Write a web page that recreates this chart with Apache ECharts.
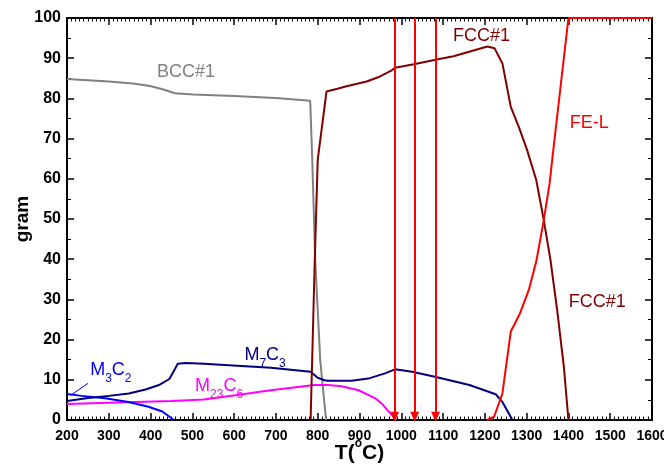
<!DOCTYPE html>
<html>
<head>
<meta charset="utf-8">
<script src="https://cdn.jsdelivr.net/npm/echarts@6/dist/echarts.min.js"></script>
<style>
  html, body { margin: 0; padding: 0; background: #fff; }
  #main { width: 664px; height: 466px; }
</style>
</head>
<body>
<div id="main"></div>
<script>
// temperatures (°C) and masses (gram)
const bccT = [200, 300, 358, 399, 431, 458, 502, 600, 700, 782, 787, 794, 806, 820]
const bccG = [84.8, 84.2, 83.7, 83.1, 82.2, 81.3, 81.0, 80.6, 80.1, 79.4, 64.7, 39.8, 14.9, 0]

const fccT = [783, 793, 800, 821, 847, 869, 917, 948, 977, 985, 1030, 1082, 1125, 1206, 1223, 1242, 1262, 1281, 1301, 1323, 1341, 1357, 1373, 1389, 1400]
const fccG = [0, 40, 64.7, 81.7, 82.4, 83.0, 84.2, 85.4, 87.0, 87.6, 88.5, 89.6, 90.5, 92.9, 92.5, 88.7, 77.9, 73.0, 67.2, 59.7, 49.7, 39.8, 27.4, 13.3, 0]

const liqT = [1205, 1222, 1242, 1262, 1284, 1305, 1323, 1341, 1355, 1362, 1400, 1600]
const liqG = [0, 0.8, 6.6, 22, 26.5, 32.3, 39.4, 49.7, 58.9, 65.5, 100, 100]

const m7c3T = [200, 251, 300, 348, 388, 420, 445, 459, 465, 485, 528, 607, 688, 783, 800, 816, 825, 881, 921, 961, 985, 1026, 1083, 1163, 1226, 1242, 1266]
const m7c3G = [4.7, 5.5, 6.0, 6.6, 7.6, 8.7, 10.2, 12.8, 14.0, 14.2, 14.0, 13.5, 13.0, 12.0, 10.5, 9.9, 9.75, 9.75, 10.3, 11.6, 12.6, 12.0, 10.7, 8.7, 6.4, 4.5, 0]

const m3c2T = [200, 235, 291, 347, 395, 428, 456]
const m3c2G = [6.45, 6.0, 5.4, 4.5, 3.3, 2.1, 0]

const m23c6T = [200, 300, 450, 528, 607, 688, 792, 825, 857, 898, 938, 955, 970, 988]
const m23c6G = [4.0, 4.3, 4.7, 5.1, 6.2, 7.4, 8.7, 8.7, 8.4, 7.4, 5.4, 3.9, 2.1, 0]

// red arrows
const arrowT = [984, 1032, 1082]

// text labels: [T, gram] of their centres
const labelNames = ['bcc', 'fccTop', 'liq', 'fccLow', 'm3c2', 'm7c3', 'm23c6']
const labelText = ['BCC#1', 'FCC#1', 'FE-L', 'FCC#1', '{m|M}{s|3}{m|C}{s|2}', '{m|M}{s|7}{m|C}{s|3}', '{m|M}{s|23}{m|C}{s|6}']
const labelT = [485, 1192, 1450, 1469, 305, 674, 564]
const labelG = [86.5, 95.5, 73.8, 29.3, 11.7, 15.4, 7.8]

const colBcc = '#808080'
const colFcc = '#800000'
const colLiq = '#ff0000'
const colM7 = '#000080'
const colM3 = '#0000ff'
const colM23 = '#ff00ff'
const labelColor = [colBcc, colFcc, colLiq, colFcc, colM3, colM7, colM23]

function pairs(t, g) {
  return t.map((v, i) => [v, g[i]])
}

function lineSeries(name, t, g, color) {
  return {
    name: name,
    type: 'line',
    data: pairs(t, g),
    showSymbol: false,
    symbol: 'none',
    lineStyle: { color: color, width: 2 },
    itemStyle: { color: color },
    z: 3
  }
}

const axisFont = 'Liberation Sans, Arial, sans-serif'

// ticks pointing into the plot on all four sides
function frameAxis(extra) {
  return Object.assign({
    type: 'value',
    axisLine: { show: true, onZero: false, lineStyle: { color: '#000', width: 2 } },
    axisTick: { show: true, inside: true, length: 7, lineStyle: { color: '#000', width: 1.5 } },
    splitLine: { show: false }
  }, extra)
}

const chart = echarts.init(document.getElementById('main'))

const liq = lineSeries('FE-L', liqT, liqG, colLiq)
liq.markLine = {
  silent: true,
  symbol: ['none', 'triangle'],
  symbolSize: [9, 10],
  label: { show: false },
  lineStyle: { color: colLiq, width: 2, type: 'solid' },
  data: arrowT.map(t => [{ coord: [t, 100] }, { coord: [t, 0.8] }])
}
liq.z = 4

const m3 = lineSeries('M3C2', m3c2T, m3c2G, colM3)
m3.markLine = {
  silent: true,
  symbol: 'none',
  label: { show: false },
  lineStyle: { color: colM3, width: 1, type: 'solid' },
  data: [[{ coord: [250, 9.1] }, { coord: [208, 6.1] }]]
}

const option = {
  animation: false,
  backgroundColor: '#fff',
  grid: { left: 67, right: 12, top: 18, bottom: 46, containLabel: false, outerBoundsMode: 'none' },
  xAxis: [frameAxis({
    min: 200,
    max: 1600,
    interval: 100,
    name: '{b|T(}{s|o}{b|C)}',
    nameLocation: 'middle',
    nameGap: 19,
    nameMoveOverlap: false,
    nameTextStyle: {
      rich: {
        b: { fontFamily: axisFont, fontWeight: 'bold', fontSize: 21, color: '#000', lineHeight: 22, padding: [6, 0, 0, 0] },
        s: { fontFamily: axisFont, fontWeight: 'bold', fontSize: 12, color: '#000', lineHeight: 12, padding: [0, 0, 12, 0] }
      }
    },
    minorTick: { show: true, splitNumber: 10, length: 3.5, lineStyle: { color: '#000', width: 1 } },
    axisLabel: { color: '#000', fontFamily: axisFont, fontWeight: 'bold', fontSize: 14, margin: 9, formatter: v => String(v) }
  }), frameAxis({
    position: 'top',
    min: 200,
    max: 1600,
    interval: 100,
    minorTick: { show: true, splitNumber: 10, length: 3.5, lineStyle: { color: '#000', width: 1 } },
    axisLabel: { show: false }
  })],
  yAxis: [frameAxis({
    min: 0,
    max: 100,
    interval: 10,
    name: 'gram',
    nameLocation: 'middle',
    nameGap: 35,
    nameMoveOverlap: false,
    nameTextStyle: { fontFamily: axisFont, fontWeight: 'bold', fontSize: 19, color: '#000' },
    minorTick: { show: true, splitNumber: 2, length: 4, lineStyle: { color: '#000', width: 1 } },
    axisLabel: { color: '#000', fontFamily: axisFont, fontWeight: 'bold', fontSize: 16, margin: 6 }
  }), frameAxis({
    position: 'right',
    min: 0,
    max: 100,
    interval: 10,
    minorTick: { show: true, splitNumber: 2, length: 4, lineStyle: { color: '#000', width: 1 } },
    axisLabel: { show: false }
  })],
  series: [
    lineSeries('BCC#1', bccT, bccG, colBcc),
    lineSeries('M23C6', m23c6T, m23c6G, colM23),
    m3,
    lineSeries('M7C3', m7c3T, m7c3G, colM7),
    lineSeries('FCC#1', fccT, fccG, colFcc),
    liq
  ]
}

chart.setOption(option)

// place the phase names in data coordinates
const graphics = labelNames.map((id, i) => {
  const p = chart.convertToPixel({ gridIndex: 0 }, [labelT[i], labelG[i]])
  return {
    type: 'text',
    id: id,
    x: p[0],
    y: p[1],
    z: 10,
    style: {
      text: labelText[i],
      fill: labelColor[i],
      font: '18px ' + axisFont,
      align: 'center',
      verticalAlign: 'middle',
      rich: {
        m: { fontSize: 18, fontFamily: axisFont, fill: labelColor[i], lineHeight: 18, padding: [0, 0, 6, 0] },
        s: { fontSize: 12, fontFamily: axisFont, fill: labelColor[i], lineHeight: 12, padding: [12, 0, 0, 0] }
      }
    }
  }
})
chart.setOption({ graphic: graphics })
</script>
</body>
</html>
